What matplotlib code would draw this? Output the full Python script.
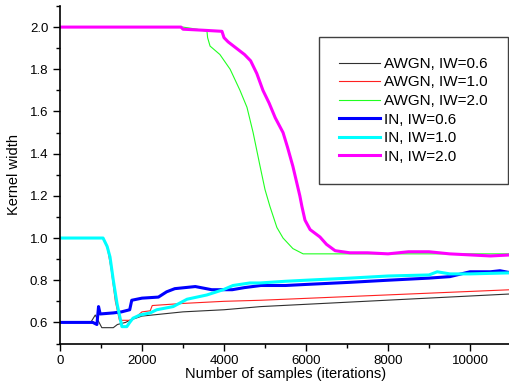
import matplotlib
matplotlib.use("Agg")
import matplotlib.pyplot as plt
from matplotlib.ticker import MultipleLocator

plt.rcParams['font.family'] = ['Liberation Sans', 'DejaVu Sans']

# AWGN, IW=0.6
awgn06_x = [0, 750, 860, 1020, 1300, 1400, 1600, 1700, 2000, 2500, 3000, 4000, 4900, 11000]
awgn06_y = [0.6, 0.6, 0.635, 0.575, 0.575, 0.59, 0.60, 0.61, 0.63, 0.64, 0.65, 0.66, 0.675, 0.735]
# AWGN, IW=1.0
awgn10_x = [0, 1050, 1150, 1250, 1350, 1450, 1700, 1850, 2000, 2200, 2250, 3000, 4000, 4900, 11000]
awgn10_y = [1.0, 1.0, 0.96, 0.85, 0.70, 0.61, 0.61, 0.625, 0.65, 0.655, 0.68, 0.69, 0.70, 0.705, 0.755]
# AWGN, IW=2.0
awgn20_x = [0, 3000, 3340, 3585, 3600, 3660, 3900, 4150, 4390, 4560, 4710, 4880, 5000, 5120, 5290,
            5440, 5680, 5930, 6500, 11000]
awgn20_y = [2.0, 2.0, 1.99, 1.98, 1.95, 1.91, 1.87, 1.80, 1.70, 1.62, 1.50, 1.34, 1.23, 1.15, 1.05,
            1.00, 0.95, 0.925, 0.925, 0.925]
# IN, IW=0.6
in06_x = [0, 800, 900, 940, 980, 1300, 1500, 1700, 1750, 2000, 2400, 2600, 2800, 3300, 3700, 4200,
          4500, 4900, 5500, 6000, 7070, 8000, 9000, 9510, 10000, 10500, 10730, 11000]
in06_y = [0.6, 0.6, 0.59, 0.675, 0.64, 0.645, 0.65, 0.66, 0.705, 0.715, 0.72, 0.745, 0.76, 0.77, 0.755, 0.755,
          0.765, 0.775, 0.775, 0.78, 0.79, 0.80, 0.81, 0.817, 0.84, 0.84, 0.845, 0.835]
# IN, IW=1.0
in10_x = [0, 1050, 1150, 1220, 1300, 1390, 1510, 1630, 1700, 1780, 1950, 2200, 2360, 2760, 3100, 3580,
          3980, 4220, 4630, 4880, 5500, 6000, 7070, 8000, 9000, 9200, 9510, 10000, 11000]
in10_y = [1.0, 1.0, 0.96, 0.91, 0.80, 0.69, 0.58, 0.58, 0.60, 0.62, 0.635, 0.645, 0.66, 0.675, 0.71, 0.73,
          0.755, 0.775, 0.787, 0.787, 0.795, 0.80, 0.81, 0.82, 0.825, 0.84, 0.83, 0.83, 0.835]
# IN, IW=2.0
in20_x = [0, 2950, 3000, 3500, 3950, 4000, 4100, 4300, 4500, 4650, 4800, 4950, 5100, 5250, 5440, 5550,
          5680, 5850, 5900, 5975, 6100, 6340, 6500, 6710, 7070, 7500, 8000, 8500, 9000, 9500, 10000, 10500, 11000]
in20_y = [2.0, 2.0, 1.99, 1.985, 1.98, 1.95, 1.93, 1.90, 1.87, 1.84, 1.78, 1.70, 1.64, 1.57, 1.50, 1.43,
          1.34, 1.20, 1.15, 1.085, 1.04, 1.005, 0.97, 0.94, 0.93, 0.93, 0.925, 0.935, 0.935, 0.925, 0.92, 0.915, 0.92]

labels = ["AWGN, IW=0.6", "AWGN, IW=1.0", "AWGN, IW=2.0", "IN, IW=0.6", "IN, IW=1.0", "IN, IW=2.0"]

fig = plt.figure(figsize=(5.1, 3.86), dpi=100)
ax = fig.add_axes([60/510, 1-343.5/386, 451/510, (343.5-6)/386])

ax.plot(awgn06_x, awgn06_y, color='#303030', lw=0.8, label=labels[0])
ax.plot(awgn10_x, awgn10_y, color='#ff2020', lw=0.8, label=labels[1])
ax.plot(awgn20_x, awgn20_y, color='#20ff20', lw=0.8, label=labels[2])
ax.plot(in06_x, in06_y, color='#0000ff', lw=2.2, label=labels[3])
ax.plot(in10_x, in10_y, color='#00ffff', lw=2.2, label=labels[4])
ax.plot(in20_x, in20_y, color='#ff00ff', lw=2.2, label=labels[5])

ax.set_xlim(0, 11000)
ax.set_ylim(0.5, 2.1)
ax.xaxis.set_major_locator(MultipleLocator(2000))
ax.xaxis.set_minor_locator(MultipleLocator(1000))
ax.yaxis.set_major_locator(MultipleLocator(0.2))
ax.yaxis.set_minor_locator(MultipleLocator(0.1))
ax.yaxis.set_major_formatter(matplotlib.ticker.FormatStrFormatter('%.1f'))
ax.tick_params(which='major', direction='out', length=5, width=1, labelsize=9.5)
ax.tick_params(which='minor', direction='out', length=3, width=1)
for s in ['top', 'right']:
    ax.spines[s].set_visible(False)
for s in ['left', 'bottom']:
    ax.spines[s].set_linewidth(1.2)

ax.set_xlabel("Number of samples (iterations)", fontsize=10.5, labelpad=0)
ax.set_ylabel("Kernel width", fontsize=10.5, labelpad=6)

leg = fig.legend(loc='upper left', bbox_to_anchor=(319/510, 1-37/386), fontsize=11,
                 frameon=True, fancybox=False, framealpha=1, edgecolor='#404040',
                 handlelength=2.7, handletextpad=0.26, borderpad=1.3, labelspacing=0.3,
                 borderaxespad=0)
leg.get_frame().set_linewidth(1.0)

fig.savefig("out.png", dpi=100)
